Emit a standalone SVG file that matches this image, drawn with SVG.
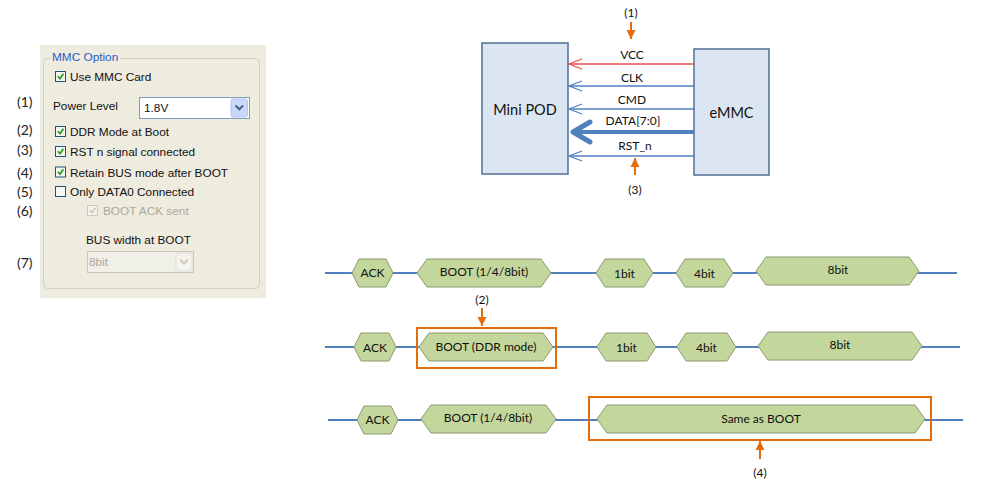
<svg xmlns="http://www.w3.org/2000/svg" width="983" height="500" viewBox="0 0 983 500">
<style>
.gui{font-family:"Liberation Sans",Arial,sans-serif;font-size:11.8px;fill:#111}
.dis{fill:#ACA899}
.num{font-family:Lato,"Open Sans",sans-serif;font-size:14px;fill:#222}
.lbl{font-family:Lato,"Open Sans",sans-serif;font-size:12px;fill:#111;text-anchor:middle}
.big{font-family:Lato,"Open Sans",sans-serif;font-size:14.5px;fill:#111;text-anchor:middle}
.cb{fill:#F6F6F2;stroke:#1C5180;stroke-width:1}
.cbd{fill:#F4F3EE;stroke:#CAC8BB;stroke-width:1}
.chk{fill:none;stroke:#21A121;stroke-width:1.7}
.chkd{fill:none;stroke:#CAC8BB;stroke-width:1.7}
.box{fill:#DCE6F2;stroke:#4F6F96;stroke-width:1.5}
.hex{fill:#C3D69B;stroke:#8A9A72;stroke-width:1}
.bus{stroke:#4F81BD;stroke-width:2;fill:none}
.sig{stroke:#4F81BD;stroke-width:1.3;fill:none}
.org{stroke:#E46C0A;stroke-width:2;fill:none}
.oarr{stroke:#E46C0A;stroke-width:2;fill:none}
</style>
<defs>
<marker id="ah-blue" viewBox="0 0 16 12" refX="15" refY="6" markerWidth="16" markerHeight="12" markerUnits="userSpaceOnUse" orient="auto">
<path d="M2,1 L15,6 L2,11" fill="none" stroke="#4F81BD" stroke-width="1.3"/>
</marker>
<marker id="ah-red" viewBox="0 0 16 12" refX="15" refY="6" markerWidth="16" markerHeight="12" markerUnits="userSpaceOnUse" orient="auto">
<path d="M2,1 L15,6 L2,11" fill="none" stroke="#F04E4E" stroke-width="1.3"/>
</marker>
<marker id="ah-thick" viewBox="0 0 26 26" refX="21" refY="13" markerWidth="26" markerHeight="26" markerUnits="userSpaceOnUse" orient="auto">
<path d="M4,3 L21,13 L4,23" fill="none" stroke="#4F81BD" stroke-width="5" stroke-linecap="round" stroke-linejoin="round"/>
</marker>
<marker id="ah-org" viewBox="0 0 10 10" refX="9" refY="5" markerWidth="10" markerHeight="10" markerUnits="userSpaceOnUse" orient="auto">
<path d="M0,0.5 L9,5 L0,9.5 Z" fill="#E46C0A"/>
</marker>
</defs>

<g id="gui-panel">
<rect x="40" y="45" width="226" height="253" fill="#EEEBDF"/>
<rect x="43.5" y="58.5" width="216" height="230" rx="4" fill="none" stroke="#D0CFBF"/>
<rect x="50" y="52" width="70" height="12" fill="#EEEBDF"/>
<text x="52" y="61" class="gui" style="fill:#2A5CC8">MMC Option</text>

<rect x="55.5" y="71.5" width="10" height="10" class="cb"/>
<path d="M57.8,76.2 L60,78.6 L63.4,73.8" class="chk"/>
<text x="70" y="80.5" class="gui">Use MMC Card</text>

<text x="53" y="110" class="gui">Power Level</text>
<rect x="139.5" y="97.5" width="110" height="21" fill="#FFFFFF" stroke="#7F9DB9"/>
<text x="144" y="112" class="gui">1.8V</text>
<rect x="231" y="99" width="16.5" height="18" rx="2" fill="#C7D8FB" stroke="#B2C6EE"/>
<path d="M235.5,105.5 L239.3,109.3 L243.1,105.5" fill="none" stroke="#4D6185" stroke-width="2"/>

<rect x="55.5" y="126.5" width="10" height="10" class="cb"/>
<path d="M57.8,131.2 L60,133.6 L63.4,128.8" class="chk"/>
<text x="70" y="136" class="gui">DDR Mode at Boot</text>

<rect x="55.5" y="146.5" width="10" height="10" class="cb"/>
<path d="M57.8,151.2 L60,153.6 L63.4,148.8" class="chk"/>
<text x="70" y="156" class="gui">RST n signal connected</text>

<rect x="55.5" y="167" width="10" height="10" class="cb"/>
<path d="M57.8,171.7 L60,174.1 L63.4,169.3" class="chk"/>
<text x="70" y="176.5" class="gui">Retain BUS mode after BOOT</text>

<rect x="55.5" y="186.5" width="10" height="10" class="cb"/>
<text x="70" y="196" class="gui">Only DATA0 Connected</text>

<rect x="87.5" y="205.5" width="10" height="10" class="cbd"/>
<path d="M89.8,210.2 L92,212.6 L95.4,207.8" class="chkd"/>
<text x="103" y="215" class="gui dis">BOOT ACK sent</text>

<text x="86" y="244" class="gui">BUS width at BOOT</text>
<rect x="87.5" y="251.5" width="106" height="21" fill="#F1F0E8" stroke="#C9C7BA"/>
<text x="89" y="266" class="gui dis">8bit</text>
<rect x="176" y="253" width="16" height="18" rx="2" fill="#F4F3EE" stroke="#DEDCD2"/>
<path d="M180,259.5 L184,263.5 L188,259.5" fill="none" stroke="#C9C7BA" stroke-width="2"/>

<text x="17" y="107" class="num">(1)</text>
<text x="17" y="135" class="num">(2)</text>
<text x="17" y="155" class="num">(3)</text>
<text x="17" y="178" class="num">(4)</text>
<text x="17" y="197" class="num">(5)</text>
<text x="17" y="216" class="num">(6)</text>
<text x="17" y="268" class="num">(7)</text>
</g>

<g id="mini-pod">
<rect x="482" y="43" width="86" height="131" class="box"/>
<text x="525" y="115" class="big">Mini POD</text>
</g>
<g id="emmc">
<rect x="694" y="49" width="75" height="126" class="box"/>
<text x="731.5" y="118" class="big">eMMC</text>
</g>

<g id="connectors">
<line x1="694" y1="64" x2="569" y2="64" stroke="#F04E4E" stroke-width="1.3" marker-end="url(#ah-red)"/>
<line x1="694" y1="86" x2="569" y2="86" class="sig" marker-end="url(#ah-blue)"/>
<line x1="694" y1="109" x2="569" y2="109" class="sig" marker-end="url(#ah-blue)"/>
<line x1="694" y1="132" x2="573" y2="132" stroke="#4F81BD" stroke-width="4" marker-end="url(#ah-thick)"/>
<line x1="694" y1="156" x2="569" y2="156" class="sig" marker-end="url(#ah-blue)"/>
<line x1="631" y1="22" x2="631" y2="39" class="oarr" marker-end="url(#ah-org)"/>
<line x1="635" y1="175" x2="635" y2="158" class="oarr" marker-end="url(#ah-org)"/>
<line x1="482" y1="308" x2="482" y2="326" class="oarr" marker-end="url(#ah-org)"/>
<line x1="760" y1="459" x2="760" y2="441" class="oarr" marker-end="url(#ah-org)"/>
<line x1="325" y1="273" x2="957" y2="273" class="bus"/>
<line x1="325" y1="347" x2="960" y2="347" class="bus"/>
<line x1="328" y1="420" x2="963" y2="420" class="bus"/>
</g>

<g id="signal-labels">
<text x="632" y="59" class="lbl">VCC</text>
<text x="632" y="82" class="lbl">CLK</text>
<text x="632" y="104" class="lbl">CMD</text>
<text x="633" y="124.5" class="lbl">DATA[7:0]</text>
<text x="635" y="150" class="lbl">RST_n</text>
<text x="631" y="17" class="lbl">(1)</text>
<text x="635" y="194" class="lbl">(3)</text>
<text x="482" y="304" class="lbl">(2)</text>
<text x="760" y="477" class="lbl">(4)</text>
</g>

<g id="row1">
<polygon class="hex" points="352,273 359,259 386,259 393,273 386,287 359,287"/>
<text x="372.5" y="277" class="lbl">ACK</text>
<polygon class="hex" points="417,273 427,259 541,259 551,273 541,287 427,287"/>
<text x="484" y="276" class="lbl">BOOT (1/4/8bit)</text>
<polygon class="hex" points="596,273 605,259 644,259 653,273 644,287 605,287"/>
<text x="624.5" y="278" class="lbl">1bit</text>
<polygon class="hex" points="676,273 685,259 724,259 733,273 724,287 685,287"/>
<text x="704.5" y="278" class="lbl">4bit</text>
<polygon class="hex" points="756,271 766,257 909,257 919,271 909,285 766,285"/>
<text x="838" y="274" class="lbl">8bit</text>
</g>

<g id="row2">
<polygon class="hex" points="354,347 361,333 389,333 396,347 389,361 361,361"/>
<text x="375" y="352" class="lbl">ACK</text>
<polygon class="hex" points="419,347 429,333 543,333 553,347 543,361 429,361"/>
<text x="486" y="351" class="lbl">BOOT (DDR mode)</text>
<rect x="417" y="328" width="139" height="40" class="org"/>
<polygon class="hex" points="597,347 606,333 647,333 656,347 647,361 606,361"/>
<text x="626.5" y="352" class="lbl">1bit</text>
<polygon class="hex" points="677,347 686,333 727,333 736,347 727,361 686,361"/>
<text x="706.5" y="352" class="lbl">4bit</text>
<polygon class="hex" points="758,346 768,332 912,332 922,346 912,360 768,360"/>
<text x="840" y="349" class="lbl">8bit</text>
</g>

<g id="row3">
<polygon class="hex" points="357,420 364,406 391,406 398,420 391,434 364,434"/>
<text x="377.5" y="424" class="lbl">ACK</text>
<polygon class="hex" points="421,419 431,405 546,405 556,419 546,433 431,433"/>
<text x="488" y="422" class="lbl">BOOT (1/4/8bit)</text>
<polygon class="hex" points="597,419 607,405 915,405 925,419 915,433 607,433"/>
<text x="761" y="423" class="lbl">Same as BOOT</text>
<rect x="589" y="397" width="342" height="43" class="org"/>
</g>
</svg>
